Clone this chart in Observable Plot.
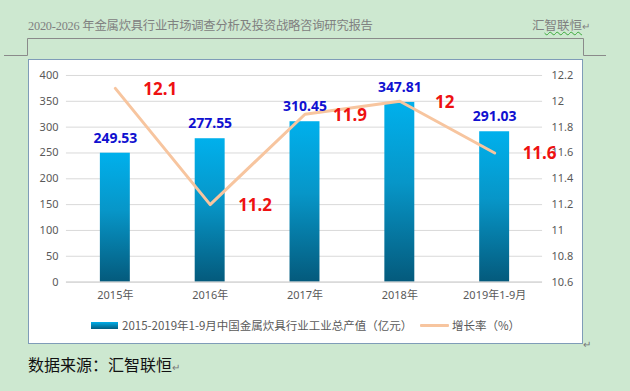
<!DOCTYPE html>
<html><head><meta charset="utf-8">
<script src="https://cdn.jsdelivr.net/npm/d3@7"></script>
<script src="https://cdn.jsdelivr.net/npm/@observablehq/plot@0.6"></script>
<style>
html,body{margin:0;padding:0;}
body{width:630px;height:391px;background:#cde8d0;position:relative;overflow:hidden;font-family:"Noto Sans CJK SC","Noto Sans",sans-serif;}
#hdr{position:absolute;left:28px;top:16px;font-size:12.3px;color:#808080;font-family:"Liberation Serif","Noto Sans CJK SC",serif;letter-spacing:-0.2px;}
#hdr2{position:absolute;left:532px;top:15px;font-size:12.5px;color:#808080;}
#box{position:absolute;left:28px;top:59px;width:553px;height:283px;background:#fff;border:1px solid #7f9cb8;}
#chart{position:absolute;left:0;top:0;}
#legend{position:absolute;left:0;top:257px;width:552px;font-size:11.5px;color:#595959;white-space:nowrap;}
#cap{position:absolute;left:28px;top:352px;font-size:16px;color:#111;}
</style></head>
<body>
<div id="hdr">2020-2026 年金属炊具行业市场调查分析及投资战略咨询研究报告</div>
<div id="hdr2">汇<span style="text-decoration:underline wavy #3aa83a;text-decoration-thickness:1px">智联恒</span><span style="font-size:10px">↵</span></div>
<svg id="frame" width="630" height="70" style="position:absolute;left:0;top:0">
  <polyline points="4,55.5 27.5,55.5 27.5,38.5 583.5,38.5 583.5,55.5 606,55.5" fill="none" stroke="#8a8a8a" stroke-width="1"/>
</svg>
<div id="box">
  <div id="chart"></div>
  <div id="legend">
    <span style="position:absolute;left:62px;top:5px;width:27px;height:7px;background:linear-gradient(#00aee9,#035c80)"></span>
    <span style="position:absolute;left:93px;top:0px">2015-2019年1-9月中国金属炊具行业工业总产值（亿元）</span>
    <span style="position:absolute;left:391px;top:7px;width:29px;height:3px;background:#f7c59f;border-radius:1px"></span>
    <span style="position:absolute;left:423px;top:0px">增长率（%）</span>
  </div>
</div>
<div style="position:absolute;left:583px;top:336px;font-size:10px;color:#777">↵</div>
<div id="cap">数据来源：汇智联恒<span style="font-size:10px;color:#777">↵</span></div>
<script>
const categories = ["2015年","2016年","2017年","2018年","2019年1-9月"];
const output = [249.53, 277.55, 310.45, 347.81, 291.03];
const growth = [12.1, 11.2, 11.9, 12, 11.6];
const leftTicks = [0,50,100,150,200,250,300,350,400];
const rightTicks = ["10.6","10.8","11","11.2","11.4","11.6","11.8","12","12.2"];

const rMin = 10.6, rMax = 12.2, lMax = 400;
const toLeft = v => (v - rMin) / (rMax - rMin) * lMax;

const data = categories.map((c,i)=>({cat:c, out:output[i], g:growth[i], gy:toLeft(growth[i])}));

const plot = Plot.plot({
  width: 554, height: 250,
  marginLeft: 37, marginRight: 40, marginTop: 15, marginBottom: 28,
  style: {fontFamily: '"Noto Sans","Noto Sans CJK SC",sans-serif', fontSize: "11px", color: "#595959", background: "transparent"},
  x: {domain: categories, paddingInner: 0.685, paddingOuter: 0.3425, label: null},
  y: {domain: [0, 400], label: null},
  marks: [
    Plot.gridY(leftTicks, {stroke: "#d9d9d9", strokeOpacity: 1}),
    Plot.axisY(leftTicks, {anchor: "left", tickSize: 0, tickPadding: 8, label: null}),
    Plot.axisY(leftTicks, {anchor: "right", tickSize: 0, tickPadding: 9, label: null, tickFormat: (d,i) => rightTicks[i], textAnchor: "start"}),
    Plot.axisX({tickSize: 0, tickPadding: 9, label: null, fontSize: 11}),
    Plot.barY(data, {x: "cat", y: "out", fill: "url(#barGrad)"}),
    Plot.ruleY([0], {stroke: "#d0d0d0"}),
    Plot.line(data, {x: "cat", y: "gy", stroke: "#f7c59f", strokeWidth: 3}),
    Plot.text(data, {x: "cat", y: "out", text: d => d.out.toFixed(2), dy: -15, fill: "#1010d0", fontWeight: "bold", fontSize: 14}),
    Plot.text(data, {x: "cat", y: "gy", text: d => String(d.g), dx: 45, dy: 1, fill: "#ee1111", fontWeight: "bold", fontSize: 17})
  ]
});

const ns = "http://www.w3.org/2000/svg";
const defs = document.createElementNS(ns, "defs");
defs.innerHTML = '<linearGradient id="barGrad" x1="0" y1="0" x2="0" y2="1"><stop offset="0" stop-color="#00b0ec"/><stop offset="0.45" stop-color="#0796c8"/><stop offset="1" stop-color="#045a7c"/></linearGradient>';
plot.insertBefore(defs, plot.firstChild);
document.getElementById("chart").appendChild(plot);
</script>
</body></html>
